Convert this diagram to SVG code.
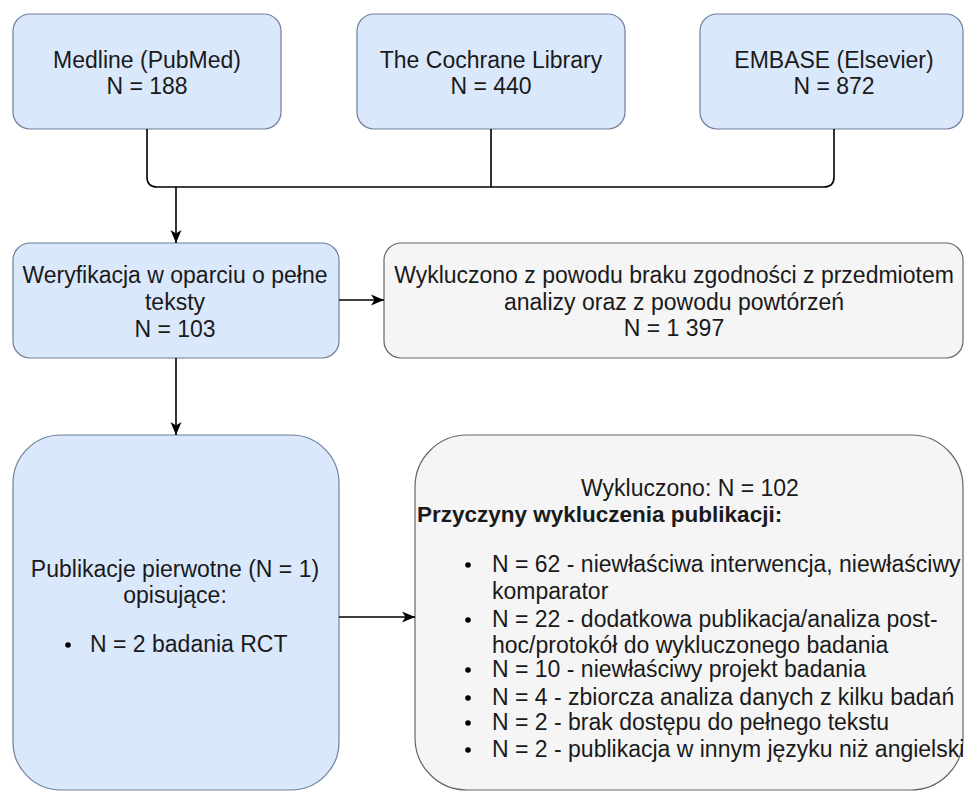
<svg xmlns="http://www.w3.org/2000/svg" width="965" height="792" viewBox="0 0 965 792">
<style>
  .blue { fill: #dae8fc; stroke: #6f7f99; stroke-width: 1.2; }
  .gray { fill: #f5f5f5; stroke: #666666; stroke-width: 1.2; }
  .t { font-family: "Liberation Sans", Arial, Helvetica, sans-serif; font-size: 23px; fill: #1a1a1a; }
  .c { text-anchor: middle; }
  .b { font-weight: bold; font-size: 22.5px; }
  .edge { fill: none; stroke: #000; stroke-width: 1.6; }
</style>
<defs>
  <marker id="arr" markerUnits="userSpaceOnUse" markerWidth="14" markerHeight="12" refX="13" refY="6" orient="auto">
    <path d="M0,0.5 L13,6 L0,11.5 L3.5,6 Z" fill="#000"/>
  </marker>
</defs>

<g id="medline">
  <rect class="blue" x="13" y="14" width="268" height="115" rx="17"/>
  <text class="t c" x="147" y="68">Medline (PubMed)</text>
  <text class="t c" x="147" y="94">N = 188</text>
</g>
<g id="cochrane">
  <rect class="blue" x="357" y="14" width="268" height="115" rx="17"/>
  <text class="t c" x="491" y="68">The Cochrane Library</text>
  <text class="t c" x="491" y="94">N = 440</text>
</g>
<g id="embase">
  <rect class="blue" x="700" y="14" width="263" height="115" rx="17"/>
  <text class="t c" x="834" y="68">EMBASE (Elsevier)</text>
  <text class="t c" x="834" y="94">N = 872</text>
</g>

<g id="weryfikacja">
  <rect class="blue" x="13" y="243" width="326" height="115" rx="17"/>
  <text class="t c" x="175" y="283">Weryfikacja w oparciu o pełne</text>
  <text class="t c" x="175" y="310">teksty</text>
  <text class="t c" x="175" y="337">N = 103</text>
</g>
<g id="wykluczono1">
  <rect class="gray" x="384" y="243" width="579" height="115" rx="17"/>
  <text class="t c" x="674" y="283">Wykluczono z powodu braku zgodności z przedmiotem</text>
  <text class="t c" x="674" y="310">analizy oraz z powodu powtórzeń</text>
  <text class="t c" x="674" y="336">N = 1 397</text>
</g>

<g id="publikacje">
  <rect class="blue" x="13" y="435" width="326" height="355" rx="48"/>
  <text class="t c" x="175" y="577">Publikacje pierwotne (N = 1)</text>
  <text class="t c" x="175" y="603">opisujące:</text>
  <circle cx="68" cy="645" r="2.8" fill="#000"/>
  <text class="t" x="90" y="652">N = 2 badania RCT</text>
</g>

<g id="wykluczono2">
  <rect class="gray" x="415" y="435" width="548" height="355" rx="52"/>
  <text class="t c" x="690" y="496">Wykluczono: N = 102</text>
  <text class="t b" x="417" y="522">Przyczyny wykluczenia publikacji:</text>
  <g fill="#000">
    <circle cx="468" cy="565" r="2.8"/>
    <circle cx="468" cy="620" r="2.8"/>
    <circle cx="468" cy="670" r="2.8"/>
    <circle cx="468" cy="698" r="2.8"/>
    <circle cx="468" cy="723" r="2.8"/>
    <circle cx="468" cy="750" r="2.8"/>
  </g>
  <text class="t" x="492" y="572">N = 62 - niewłaściwa interwencja, niewłaściwy</text>
  <text class="t" x="492" y="599">komparator</text>
  <text class="t" x="492" y="627">N = 22 - dodatkowa publikacja/analiza post-</text>
  <text class="t" x="492" y="653">hoc/protokół do wykluczonego badania</text>
  <text class="t" x="492" y="677">N = 10 - niewłaściwy projekt badania</text>
  <text class="t" x="492" y="705">N = 4 - zbiorcza analiza danych z kilku badań</text>
  <text class="t" x="492" y="730">N = 2 - brak dostępu do pełnego tekstu</text>
  <text class="t" x="492" y="757">N = 2 - publikacja w innym języku niż angielski</text>
</g>

<g id="connectors">
  <path class="edge" d="M147,129 V177 Q147,187 157,187 H824 Q834,187 834,177 V129"/>
  <path class="edge" d="M491,129 V187"/>
  <path class="edge" d="M176,187 V243" marker-end="url(#arr)"/>
  <path class="edge" d="M176,358 V435" marker-end="url(#arr)"/>
  <path class="edge" d="M339,300 H384" marker-end="url(#arr)"/>
  <path class="edge" d="M339,617 H415" marker-end="url(#arr)"/>
</g>
</svg>
